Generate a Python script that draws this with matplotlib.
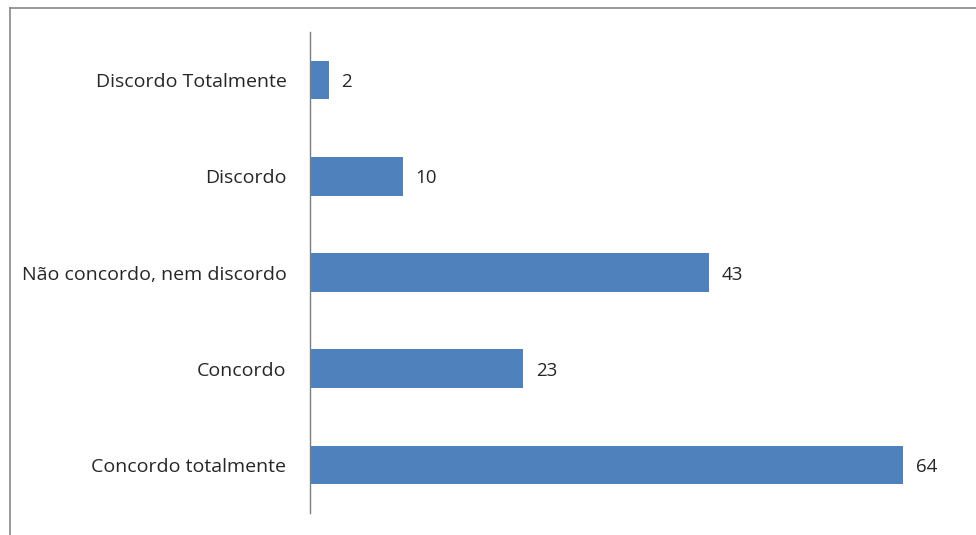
import matplotlib
matplotlib.use("Agg")
import matplotlib.pyplot as plt
from matplotlib.lines import Line2D

categories = ["Discordo Totalmente", "Discordo", "Não concordo, nem discordo", "Concordo", "Concordo totalmente"]
values = [2, 10, 43, 23, 64]

plt.rcParams['font.family'] = ['Open Sans', 'DejaVu Sans']

fig = plt.figure(figsize=(9.76, 5.35), dpi=100)
ax = fig.add_axes([310/976, 1-513/535, (959-310)/976, (513-32)/535])

ypos = list(range(len(categories)))
ax.barh(ypos, values, height=0.4, color="#4F81BD")
ax.set_ylim(len(categories)-0.5, -0.5)
ax.set_xlim(0, 70)
ax.set_yticks(ypos)
ax.set_yticklabels(categories, fontsize=14, color="#262626")
ax.tick_params(axis='y', length=0, pad=17)
ax.set_xticks([])
for s in ["top", "right", "bottom"]:
    ax.spines[s].set_visible(False)
ax.spines["left"].set_color("#7f7f7f")
ax.spines["left"].set_linewidth(1.0)

for y, v in zip(ypos, values):
    ax.annotate(str(v), (v, y), xytext=(13, -2), textcoords="offset pixels",
                va="center", ha="left", fontsize=13.5, color="#262626")

# outer border (left and top)
fig.add_artist(Line2D([10/976, 10/976], [0, 1-8/535], transform=fig.transFigure, color="#888888", lw=1.2))
fig.add_artist(Line2D([10/976, 1], [1-8/535, 1-8/535], transform=fig.transFigure, color="#888888", lw=1.2))

fig.savefig("out.png", dpi=100)
